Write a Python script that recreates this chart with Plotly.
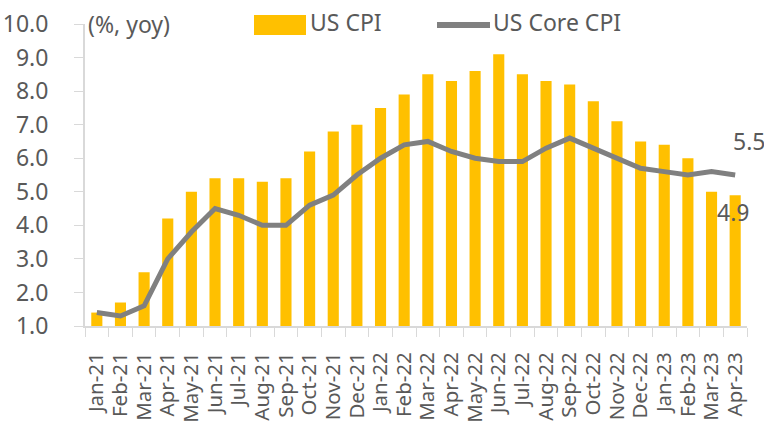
import plotly.graph_objects as go

months = ["Jan-21","Feb-21","Mar-21","Apr-21","May-21","Jun-21","Jul-21","Aug-21","Sep-21","Oct-21","Nov-21","Dec-21",
          "Jan-22","Feb-22","Mar-22","Apr-22","May-22","Jun-22","Jul-22","Aug-22","Sep-22","Oct-22","Nov-22","Dec-22",
          "Jan-23","Feb-23","Mar-23","Apr-23"]
us_cpi = [1.4, 1.7, 2.6, 4.2, 5.0, 5.4, 5.4, 5.3, 5.4, 6.2, 6.8, 7.0,
          7.5, 7.9, 8.5, 8.3, 8.6, 9.1, 8.5, 8.3, 8.2, 7.7, 7.1, 6.5,
          6.4, 6.0, 5.0, 4.9]
us_core_cpi = [1.4, 1.3, 1.6, 3.0, 3.8, 4.5, 4.3, 4.0, 4.0, 4.6, 4.9, 5.5,
               6.0, 6.4, 6.5, 6.2, 6.0, 5.9, 5.9, 6.3, 6.6, 6.3, 6.0, 5.7,
               5.6, 5.5, 5.6, 5.5]
y_ticks = [1.0, 2.0, 3.0, 4.0, 5.0, 6.0, 7.0, 8.0, 9.0, 10.0]

ORANGE = "#FFC000"
GREY = "#808080"
TXT = "#595959"
AX = "#D9D9D9"
FONT = "Noto Sans"

fig = go.Figure()
fig.add_trace(go.Bar(x=months, y=us_cpi, name="US CPI", marker=dict(color=ORANGE, line=dict(width=0)),
                     width=0.47, showlegend=False))
fig.add_trace(go.Scatter(x=months, y=us_core_cpi, name="US Core CPI", mode="lines",
                         line=dict(color=GREY, width=5), showlegend=False))

W, H = 764, 425
L, R, T, B = 85, 17, 24, 99

def px(x):
    return (x - L) / (W - L - R)

def py(y):
    return 1 - (y - T) / (H - T - B)

shapes = [
    dict(type="rect", xref="paper", yref="paper", x0=px(254), x1=px(306), y0=py(35), y1=py(15),
         fillcolor=ORANGE, line=dict(width=0)),
    dict(type="line", xref="paper", yref="paper", x0=px(437), x1=px(490), y0=py(25), y1=py(25),
         line=dict(color=GREY, width=6)),
]
annotations = [
    dict(xref="paper", yref="paper", x=px(308), y=py(22), text="US CPI", showarrow=False,
         xanchor="left", yanchor="middle", font=dict(family=FONT, size=23, color=TXT)),
    dict(xref="paper", yref="paper", x=px(491), y=py(22), text="US Core CPI", showarrow=False,
         xanchor="left", yanchor="middle", font=dict(family=FONT, size=23, color=TXT)),
    dict(xref="paper", yref="paper", x=px(86), y=py(24), text="(%, yoy)", showarrow=False,
         xanchor="left", yanchor="middle", font=dict(family=FONT, size=23, color=TXT)),
    dict(x=months[-1], y=us_core_cpi[-1], text=f"{us_core_cpi[-1]:.1f}", showarrow=False,
         xshift=14, yshift=34, font=dict(family=FONT, size=23, color=TXT)),
    dict(x=months[-1], y=us_cpi[-1], text=f"{us_cpi[-1]:.1f}", showarrow=False,
         xshift=-2, yshift=-17, font=dict(family=FONT, size=23, color=TXT)),
]

fig.update_layout(
    width=W, height=H,
    margin=dict(l=L, r=R, t=T, b=B),
    plot_bgcolor="white", paper_bgcolor="white",
    shapes=shapes, annotations=annotations,
    font=dict(family=FONT, color=TXT),
)
fig.update_xaxes(
    type="category", tickangle=-90, tickfont=dict(family=FONT, size=20.5, color=TXT),
    tickmode="linear", tick0=0, dtick=1, range=[-0.5, len(months) - 0.5],
    showline=True, linecolor=AX, linewidth=2, ticks="outside", tickson="boundaries",
    ticklen=9, tickcolor=AX, tickwidth=1, showgrid=False, ticklabelstandoff=16,
    automargin=False,
)
fig.update_yaxes(
    range=[1.0, 10.0], tickvals=y_ticks, ticktext=[f"{v:.1f}" for v in y_ticks],
    tickfont=dict(family=FONT, size=23, color=TXT),
    showline=True, linecolor=AX, linewidth=2, ticks="outside", ticklen=9, tickcolor=AX,
    showgrid=False, zeroline=False, ticklabelstandoff=21, automargin=False,
)

fig.write_html(
    "out.html",
    config={"responsive": False, "displayModeBar": False},
    post_script="document.body.style.margin='0';document.body.style.overflow='hidden';",
)
